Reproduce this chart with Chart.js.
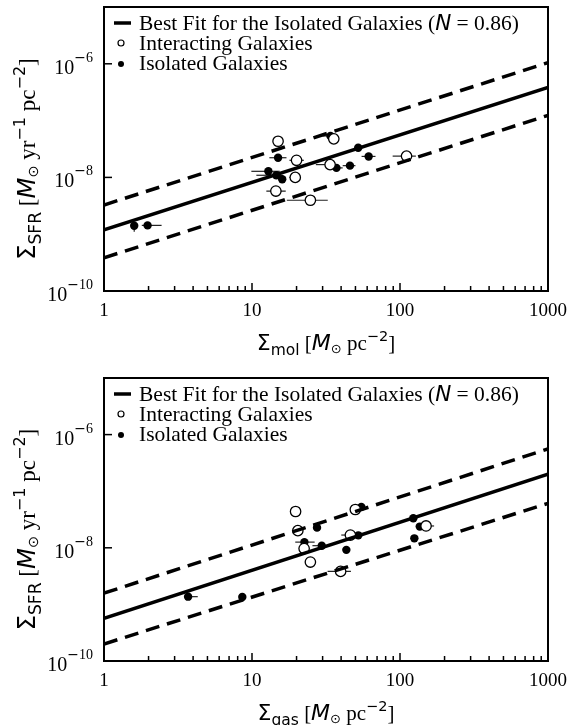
<!DOCTYPE html>
<html>
<head>
<meta charset="utf-8">
<script src="https://cdn.jsdelivr.net/npm/chart.js@4/dist/chart.umd.min.js"></script>
<style>
  html, body { margin: 0; padding: 0; background: #fff; }
  canvas { display: block; }
</style>
</head>
<body>
<canvas id="molChart" width="571" height="362"></canvas>
<canvas id="gasChart" width="571" height="363"></canvas>
<script>
/* ---------------- Data ---------------- */
// Upper panel: molecular gas surface density vs SFR surface density
const molIsoX = [1.6, 1.97, 12.9, 14.6, 16.0, 15.0, 33.9, 37.2, 45.9, 52.2, 61.4];
const molIsoY = [1.41e-9, 1.43e-9, 1.28e-8, 1.09e-8, 9.3e-9, 2.22e-8, 5.37e-8, 1.47e-8, 1.61e-8, 3.32e-8, 2.34e-8];
const molIsoXErr = [null, [1.8, 2.45], [9.9, 15.4], [10.7, 16.1], null, [13.1, 17.1], [30.0, 34.5], [35.0, 41.0], [41.0, 50.0], null, [55.0, 68.3]];
const molIsoYErr = [[1.1e-9, 1.41e-9], null, null, null, null, null, null, null, null, null, null];

const molIntX = [15.0, 20.0, 19.6, 14.5, 24.8, 33.7, 35.7, 110.7];
const molIntY = [4.33e-8, 2.0e-8, 1.0e-8, 5.75e-9, 3.96e-9, 1.68e-8, 4.77e-8, 2.37e-8];
const molIntXErr = [null, [17.9, 22.4], [17.9, 19.6], [12.5, 16.9], [17.2, 32.5], [27.0, 33.7], null, [89.2, 128]];
const molIntYErr = [null, null, null, [4.6e-9, 5.75e-9], [3.2e-9, 3.96e-9], null, null, null];

// best fit and its scatter band, values at x = 1 and x = 1000
const fitX = [1, 1000];
const molFit = [1.19e-9, 3.84e-7];
const molFitHigh = [3.27e-9, 1.05e-6];
const molFitLow = [3.84e-10, 1.24e-7];

// Lower panel: total gas surface density vs SFR surface density
const gasIsoX = [3.70, 8.6, 22.6, 29.6, 27.5, 43.4, 52.3, 54.8, 123, 136, 125];
const gasIsoY = [1.37e-9, 1.35e-9, 1.26e-8, 1.09e-8, 2.27e-8, 9.2e-9, 1.66e-8, 5.28e-8, 3.33e-8, 2.37e-8, 1.47e-8];
const gasIsoXErr = [[3.5, 4.3], null, [19.6, 26.5], [25.6, 29.6], [26.0, 28.5], null, null, null, null, null, null];
const gasIsoYErr = [null, [1.15e-9, 1.35e-9], null, null, null, null, null, null, null, null, null];

const gasIntX = [19.7, 20.4, 22.5, 24.8, 39.7, 46.2, 49.9, 150];
const gasIntY = [4.38e-8, 2.01e-8, 9.7e-9, 5.6e-9, 3.83e-9, 1.68e-8, 4.75e-8, 2.43e-8];
const gasIntXErr = [[18.2, 21.0], [19.0, 22.0], null, null, [32.4, 46.6], [40.1, 46.2], [46.0, 49.9], [140, 170]];
const gasIntYErr = [null, null, null, [4.5e-9, 5.6e-9], [3.2e-9, 3.83e-9], null, null, null];

const gasFit = [5.7e-10, 2.0e-7];
const gasFitHigh = [1.58e-9, 5.6e-7];
const gasFitLow = [2.0e-10, 6.1e-8];

const xTickLabels = ["1", "10", "100", "1000"];
const yTickExps = [-10, -8, -6];

/* ---------------- Fonts ---------------- */
const serif = '"Liberation Serif", "Times New Roman", serif';
const sans = '"DejaVu Sans", sans-serif';

/* ---------------- Helpers ---------------- */
const pts = (xs, ys) => xs.map((x, i) => ({ x, y: ys[i] }));

function runsWidth(ctx, runs) {
    let w = 0;
    runs.forEach(r => { ctx.font = r.font; w += ctx.measureText(r.t).width; });
    return w;
}

function drawRuns(ctx, runs, x, y) {
    runs.forEach(r => {
        ctx.font = r.font;
        ctx.fillText(r.t, x, y + (r.dy || 0));
        x += ctx.measureText(r.t).width;
    });
}

// Σ_sub [M_⊙ (yr^-1) pc^-2], k scales every size
function sigmaLabel(sub, withYr, k) {
    const px = n => (n * k).toFixed(1) + "px ";
    const big = px(21) + serif;
    const sup = px(14.5) + sans;
    const runs = [
        { t: "\u03A3", font: px(22) + sans },
        { t: sub, font: px(15.5) + sans, dy: 5 * k },
        { t: " [", font: big },
        { t: "M", font: "italic " + px(22) + sans },
        { t: "\u2299", font: px(13) + sans, dy: 3 * k },
    ];
    if (withYr) {
        runs.push({ t: " yr", font: big }, { t: "\u22121", font: sup, dy: -9 * k });
    }
    runs.push({ t: " pc", font: big }, { t: "\u22122", font: sup, dy: -9 * k }, { t: "]", font: big });
    return runs;
}

/* ---------------- Plugins ---------------- */
// error bars, drawn under the markers
const errorBars = {
    id: "errorBars",
    beforeDatasetsDraw(chart, args, opts) {
        const { ctx, scales: { x, y } } = chart;
        ctx.save();
        ctx.strokeStyle = "#222";
        ctx.lineWidth = 1.2;
        opts.sets.forEach(s => {
            s.xs.forEach((xv, i) => {
                const px = x.getPixelForValue(xv);
                const py = y.getPixelForValue(s.ys[i]);
                const xe = s.xErr[i], ye = s.yErr[i];
                ctx.beginPath();
                if (xe) {
                    ctx.moveTo(x.getPixelForValue(xe[0]), py);
                    ctx.lineTo(x.getPixelForValue(xe[1]), py);
                }
                if (ye) {
                    ctx.moveTo(px, y.getPixelForValue(ye[0]));
                    ctx.lineTo(px, y.getPixelForValue(ye[1]));
                }
                ctx.stroke();
            });
        });
        ctx.restore();
    }
};

// frame, inward ticks, tick labels, axis titles and legend
const frame = {
    id: "frame",
    afterDraw(chart, args, opts) {
        const { ctx, chartArea: a, scales: { x, y } } = chart;
        ctx.save();
        ctx.strokeStyle = "#000";
        ctx.fillStyle = "#000";

        // box
        ctx.lineWidth = 2;
        ctx.strokeRect(a.left, a.top, a.right - a.left, a.bottom - a.top);

        // x ticks: decades long, in-between short
        ctx.lineWidth = 1.5;
        for (let d = 1; d <= 1000; d *= 10) {
            for (let m = 1; m <= 9; m++) {
                const v = d * m;
                if (v > 1000) break;
                const px = x.getPixelForValue(v);
                const len = m === 1 ? 8 : 5;
                ctx.beginPath();
                ctx.moveTo(px, a.bottom);
                ctx.lineTo(px, a.bottom - len);
                ctx.stroke();
            }
        }
        // y ticks
        yTickExps.forEach(e => {
            const py = y.getPixelForValue(Math.pow(10, e));
            ctx.beginPath();
            ctx.moveTo(a.left, py);
            ctx.lineTo(a.left + 8, py);
            ctx.stroke();
        });

        // tick labels
        ctx.textBaseline = "alphabetic";
        ctx.font = `19px ${serif}`;
        ctx.textAlign = "center";
        xTickLabels.forEach(t => {
            ctx.fillText(t, x.getPixelForValue(+t), a.bottom + 25);
        });
        ctx.textAlign = "left";
        yTickExps.forEach(e => {
            const py = y.getPixelForValue(Math.pow(10, e));
            const runs = [
                { t: "10", font: `20px ${serif}` },
                { t: "\u2212", font: `14px ${sans}`, dy: -12 },
                { t: String(Math.abs(e)), font: `14px ${serif}`, dy: -12 }
            ];
            const w = runsWidth(ctx, runs);
            drawRuns(ctx, runs, a.left - 11 - w, py + 10);
        });

        // x axis title
        const xr = sigmaLabel(opts.xSub, false, 1);
        drawRuns(ctx, xr, (a.left + a.right) / 2 - runsWidth(ctx, xr) / 2, a.bottom + 59);

        // y axis title, rotated
        const yr = sigmaLabel("SFR", true, 1.1);
        ctx.save();
        ctx.translate(35, (a.top + a.bottom) / 2 + 10);
        ctx.rotate(-Math.PI / 2);
        drawRuns(ctx, yr, -runsWidth(ctx, yr) / 2, 0);
        ctx.restore();

        // legend
        const lx = a.left + 10, ly = a.top + 16;
        ctx.lineWidth = 3.5;
        ctx.beginPath();
        ctx.moveTo(lx, ly);
        ctx.lineTo(lx + 17, ly);
        ctx.stroke();
        drawRuns(ctx, [
            { t: "Best Fit for the Isolated Galaxies (", font: `21.5px ${serif}` },
            { t: "N", font: `italic 21.5px ${sans}` },
            { t: " = 0.86)", font: `21.5px ${serif}` }
        ], lx + 25, ly + 7);

        ctx.lineWidth = 1.2;
        ctx.fillStyle = "#fff";
        ctx.beginPath();
        ctx.arc(lx + 7, ly + 20, 3, 0, Math.PI * 2);
        ctx.fill();
        ctx.stroke();
        ctx.fillStyle = "#000";
        ctx.font = `21.5px ${serif}`;
        ctx.fillText("Interacting Galaxies", lx + 25, ly + 27);

        ctx.beginPath();
        ctx.arc(lx + 7, ly + 41, 3, 0, Math.PI * 2);
        ctx.fill();
        ctx.fillText("Isolated Galaxies", lx + 25, ly + 47);

        ctx.restore();
    }
};

/* ---------------- Charts ---------------- */
function makeChart(id, cfg) {
    const lineSet = (ys, dashed, w) => ({
        type: "line",
        data: pts(fitX, ys),
        borderColor: "#000",
        borderWidth: w,
        borderDash: dashed ? [14, 8] : [],
        pointRadius: 0,
        fill: false
    });

    return new Chart(document.getElementById(id), {
        type: "scatter",
        data: {
            datasets: [
                lineSet(cfg.fitHigh, true, 3.5),
                lineSet(cfg.fitLow, true, 3.5),
                lineSet(cfg.fit, false, 3.5),
                {
                    label: "Interacting Galaxies",
                    data: pts(cfg.intX, cfg.intY),
                    pointRadius: 5.2,
                    pointBackgroundColor: "#fff",
                    pointBorderColor: "#000",
                    pointBorderWidth: 1.3
                },
                {
                    label: "Isolated Galaxies",
                    data: pts(cfg.isoX, cfg.isoY),
                    pointRadius: 4.2,
                    pointBackgroundColor: "#000",
                    pointBorderColor: "#000",
                    pointBorderWidth: 0
                }
            ]
        },
        options: {
            responsive: false,
            animation: false,
            layout: { padding: cfg.padding },
            plugins: {
                legend: { display: false },
                tooltip: { enabled: false },
                errorBars: {
                    sets: [
                        { xs: cfg.intX, ys: cfg.intY, xErr: cfg.intXErr, yErr: cfg.intYErr },
                        { xs: cfg.isoX, ys: cfg.isoY, xErr: cfg.isoXErr, yErr: cfg.isoYErr }
                    ]
                },
                frame: { xSub: cfg.xSub }
            },
            scales: {
                x: { type: "logarithmic", min: 1, max: 1000, display: false },
                y: { type: "logarithmic", min: 1e-10, max: 1e-5, display: false }
            }
        },
        plugins: [errorBars, frame]
    });
}

makeChart("molChart", {
    isoX: molIsoX, isoY: molIsoY, isoXErr: molIsoXErr, isoYErr: molIsoYErr,
    intX: molIntX, intY: molIntY, intXErr: molIntXErr, intYErr: molIntYErr,
    fit: molFit, fitHigh: molFitHigh, fitLow: molFitLow,
    xSub: "mol",
    padding: { left: 104, right: 23, top: 7, bottom: 71 }
});

makeChart("gasChart", {
    isoX: gasIsoX, isoY: gasIsoY, isoXErr: gasIsoXErr, isoYErr: gasIsoYErr,
    intX: gasIntX, intY: gasIntY, intXErr: gasIntXErr, intYErr: gasIntYErr,
    fit: gasFit, fitHigh: gasFitHigh, fitLow: gasFitLow,
    xSub: "gas",
    padding: { left: 104, right: 23, top: 16, bottom: 64 }
});
</script>
</body>
</html>
